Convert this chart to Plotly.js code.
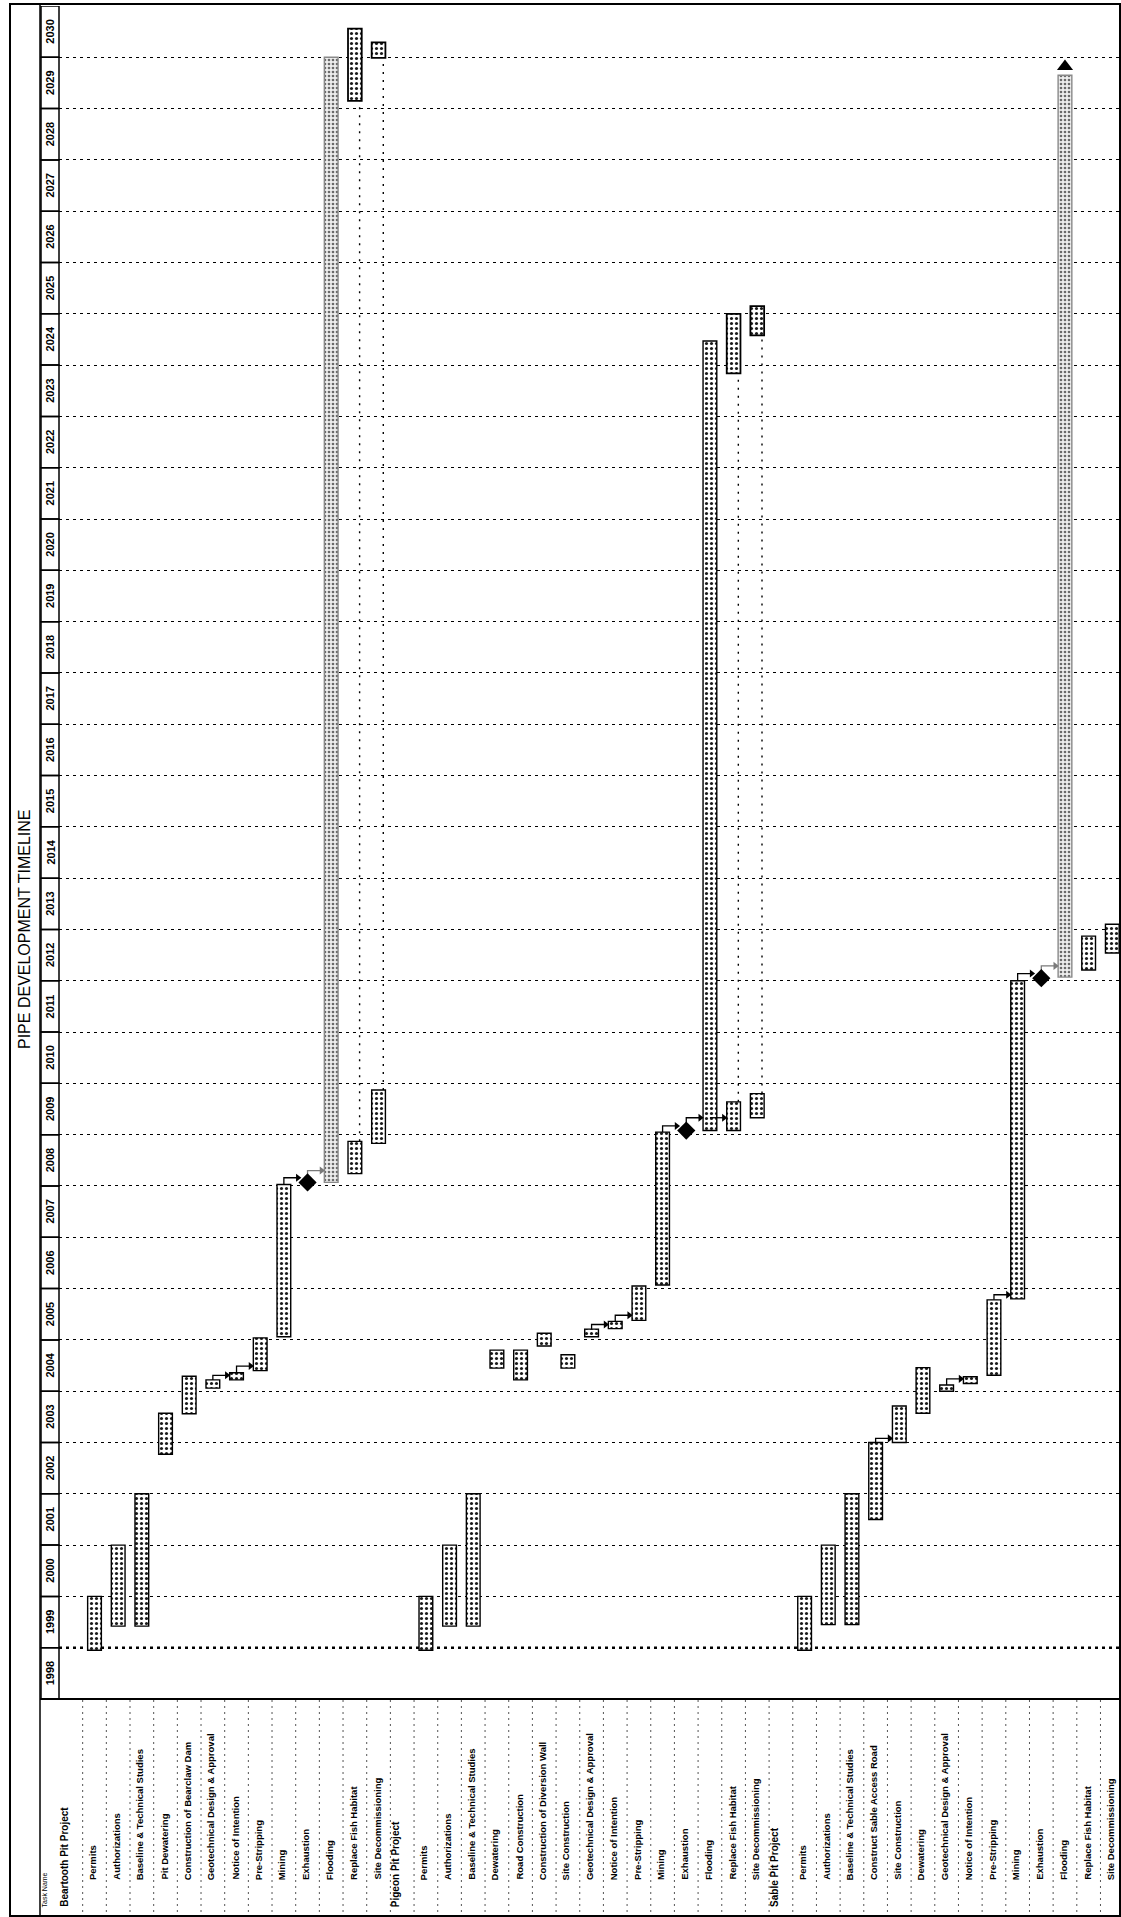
<!DOCTYPE html>
<html>
<head>
<meta charset="utf-8">
<script src="https://cdn.plot.ly/plotly-3.0.1.min.js"></script>
<style>
  html, body { margin: 0; padding: 0; background: #fff; }
  #chart { width: 1121px; height: 1917px; }
</style>
</head>
<body>
<div id="chart"></div>
<script>
// ---------------- DATA ----------------
const chartTitle = "PIPE DEVELOPMENT TIMELINE";
const columnHeader = "Task Name";

const taskNames = [
  "Beartooth Pit Project", "Permits", "Authorizations", "Baseline & Technical Studies",
  "Pit Dewatering", "Construction of Bearclaw Dam", "Geotechnical Design & Approval",
  "Notice of Intention", "Pre-Stripping", "Mining", "Exhaustion", "Flooding",
  "Replace Fish Habitat", "Site Decommissioning",
  "Pigeon Pit Project", "Permits", "Authorizations", "Baseline & Technical Studies",
  "Dewatering", "Road Construction", "Construction of Diversion Wall", "Site Construction",
  "Geotechnical Design & Approval", "Notice of Intention", "Pre-Stripping", "Mining",
  "Exhaustion", "Flooding", "Replace Fish Habitat", "Site Decommissioning",
  "Sable Pit Project", "Permits", "Authorizations", "Baseline & Technical Studies",
  "Construct Sable Access Road", "Site Construction", "Dewatering",
  "Geotechnical Design & Approval", "Notice of Intention", "Pre-Stripping", "Mining",
  "Exhaustion", "Flooding", "Replace Fish Habitat", "Site Decommissioning"
];
const projectRows = [0, 14, 30];

const yearLabels = [1998, 1999, 2000, 2001, 2002, 2003, 2004, 2005, 2006, 2007, 2008,
  2009, 2010, 2011, 2012, 2013, 2014, 2015, 2016, 2017, 2018, 2019, 2020, 2021, 2022,
  2023, 2024, 2025, 2026, 2027, 2028, 2029, 2030];
const markerDate = 1999;   // bold dotted line

// task bars (first segment)
const barRow = [1, 2, 3, 4, 5, 6, 7, 8, 9, 12, 13,
  15, 16, 17, 18, 19, 20, 21, 22, 23, 24, 25, 27, 28, 29,
  31, 32, 33, 34, 35, 36, 37, 38, 39, 40, 43, 44];
const barStart = [1998.95, 1999.42, 1999.42, 2002.77, 2003.56, 2004.06, 2004.22, 2004.40, 2005.06, 2008.24, 2008.83,
  1998.95, 1999.42, 1999.42, 2004.45, 2004.22, 2004.88, 2004.45, 2005.06, 2005.22, 2005.38, 2006.07, 2009.08, 2009.08, 2009.33,
  1998.95, 1999.45, 1999.45, 2001.50, 2003.00, 2003.57, 2004.00, 2004.15, 2004.31, 2005.80, 2012.21, 2012.54];
const barEnd = [2000.00, 2001.00, 2002.00, 2003.57, 2004.29, 2004.22, 2004.36, 2005.04, 2008.03, 2008.87, 2009.87,
  2000.00, 2001.00, 2002.00, 2004.80, 2004.80, 2005.13, 2004.71, 2005.21, 2005.36, 2006.05, 2009.05, 2024.47, 2009.64, 2009.80,
  2000.00, 2001.00, 2002.00, 2003.00, 2003.71, 2004.46, 2004.12, 2004.28, 2005.78, 2012.00, 2012.87, 2013.10];

// long grey flooding bars
const floodRow = [11, 42];
const floodStart = [2008.07, 2012.07];
const floodEnd = [2030.00, 2029.65];
const contRow = [42];            // bar continues past the timescale
const contDate = [2029.82];

// second segment of split tasks
const splitRow = [12, 13, 28, 29];
const splitStart = [2029.15, 2029.99, 2023.84, 2024.58];
const splitEnd = [2030.56, 2030.29, 2025.00, 2025.15];

// milestones
const msRow = [10, 26, 41];
const msDate = [2008.07, 2009.08, 2012.05];

// dependency links
const linkFrom = [6, 7, 9, 10, 22, 23, 25, 26, 27, 34, 37, 39, 40, 41];
const linkFromDate = [2004.22, 2004.36, 2008.03, 2008.15, 2005.21, 2005.36, 2009.05, 2009.15, 2009.33, 2002.98, 2004.12, 2005.78, 2012.00, 2012.12];
const linkTo = [7, 8, 10, 11, 23, 24, 26, 27, 28, 35, 38, 40, 41, 42];
const linkLevel = [2004.31, 2004.49, 2008.16, 2008.30, 2005.30, 2005.48, 2009.17, 2009.33, 2009.33, 2003.08, 2004.24, 2005.88, 2012.14, 2012.29];
const linkGrey = [false, false, false, true, false, false, false, false, false, false, false, false, false, true];

// ---------------- LAYOUT GEOMETRY ----------------
const W = 1121, H = 1917;
const M = { l: 59, r: 0, t: 6, b: 218 };
const plotW = W - M.l - M.r, plotH = H - M.t - M.b;
const px2x = px => (px - M.l) / plotW;
const py2y = py => (H - M.b - py) / plotH;
const FONT = "Liberation Sans, Arial, sans-serif";
const halfBar = 0.29;

// ---------------- TRACES ----------------
const dotPattern = { shape: ".", fgcolor: "#1a1a1a", bgcolor: "#ffffff", size: 5, solidity: 0.3 };
const traces = [];

traces.push({
  type: "bar", x: barRow, base: barStart,
  y: barEnd.map((e, i) => e - barStart[i]),
  width: 0.58, orientation: "v",
  marker: { color: "#ffffff", pattern: dotPattern, line: { color: "#000", width: 1.4 } },
  hoverinfo: "skip", showlegend: false
});
traces.push({
  type: "bar", x: splitRow, base: splitStart,
  y: splitEnd.map((e, i) => e - splitStart[i]),
  width: 0.58,
  marker: { color: "#ffffff", pattern: dotPattern, line: { color: "#000", width: 1.8 } },
  hoverinfo: "skip", showlegend: false
});
traces.push({
  type: "bar", x: floodRow, base: floodStart,
  y: floodEnd.map((e, i) => e - floodStart[i]),
  width: 0.58,
  marker: { color: "#eeeeee",
    pattern: { shape: ".", fgcolor: "#6a6a6a", bgcolor: "#eeeeee", size: 4, solidity: 0.35 },
    line: { color: "#8a8a8a", width: 1.4 } },
  hoverinfo: "skip", showlegend: false
});

// dotted connectors between split segments
{
  const xs = [], ys = [];
  splitRow.forEach((r, i) => {
    const k = barRow.indexOf(r);
    xs.push(r + 0.2, r + 0.2, null);
    ys.push(barEnd[k], splitStart[i], null);
  });
  traces.push({ type: "scatter", mode: "lines", x: xs, y: ys,
    line: { color: "#000", width: 1.4, dash: "2px,6px" },
    hoverinfo: "skip", showlegend: false });
}

// dependency link lines
function linkPath(grey) {
  const xs = [], ys = [], hx = [], hy = [];
  linkFrom.forEach((f, i) => {
    if (linkGrey[i] !== grey) return;
    const t = linkTo[i];
    xs.push(f, f, t - halfBar - 0.1, null);
    ys.push(linkFromDate[i], linkLevel[i], linkLevel[i], null);
    hx.push(t - halfBar - 0.12);
    hy.push(linkLevel[i]);
  });
  return { xs, ys, hx, hy };
}
[false, true].forEach(grey => {
  const p = linkPath(grey);
  const col = grey ? "#7a7a7a" : "#000";
  traces.push({ type: "scatter", mode: "lines", x: p.xs, y: p.ys,
    line: { color: col, width: 1.3 }, hoverinfo: "skip", showlegend: false });
  traces.push({ type: "scatter", mode: "markers", x: p.hx, y: p.hy,
    marker: { symbol: "triangle-right", size: 7, color: col },
    hoverinfo: "skip", showlegend: false });
});

// milestones
traces.push({ type: "scatter", mode: "markers", x: msRow, y: msDate,
  marker: { symbol: "diamond", size: 14, color: "#000" },
  hoverinfo: "skip", showlegend: false });
// continuation arrow
traces.push({ type: "scatter", mode: "markers", x: contRow, y: contDate,
  marker: { symbol: "triangle-up", size: 14, color: "#000" },
  hoverinfo: "skip", showlegend: false, cliponaxis: false });

// ---------------- SHAPES & ANNOTATIONS ----------------
const shapes = [];
const annotations = [];

// page border
shapes.push({ type: "rect", xref: "paper", yref: "paper",
  x0: px2x(10), x1: px2x(1120), y0: py2y(1916), y1: py2y(4),
  line: { color: "#000", width: 2 }, layer: "above" });
// table left border
shapes.push({ type: "line", xref: "paper", yref: "paper",
  x0: px2x(40), x1: px2x(40), y0: py2y(1916), y1: py2y(4),
  line: { color: "#000", width: 1.5 }, layer: "above" });
// task-area top line
shapes.push({ type: "line", xref: "paper", yref: "paper",
  x0: px2x(40), x1: 1, y0: 0, y1: 0,
  line: { color: "#000", width: 2.2 }, layer: "above" });
// bold dotted date line
shapes.push({ type: "line", xref: "paper", yref: "y",
  x0: 0, x1: 1, y0: markerDate, y1: markerDate,
  line: { color: "#000", width: 2.6, dash: "3px,4px" }, layer: "between" });

// year header boxes and labels
yearLabels.forEach(yr => {
  shapes.push({ type: "rect", xref: "paper", yref: "y",
    x0: px2x(41), x1: 0, y0: yr, y1: yr + 1,
    line: { color: "#000", width: 1.5 }, layer: "above" });
  annotations.push({ xref: "paper", yref: "y", x: px2x(50), y: yr + 0.5,
    text: "<b>" + yr + "</b>", showarrow: false, textangle: -90,
    font: { family: FONT, size: 11, color: "#000" }, xanchor: "center", yanchor: "middle" });
});

// row separators in the task-name area
for (let i = 0; i < taskNames.length - 1; i++) {
  shapes.push({ type: "line", xref: "x", yref: "paper",
    x0: i + 0.5, x1: i + 0.5, y0: py2y(1700), y1: py2y(1916),
    line: { color: "#555", width: 1, dash: "2px,4px" }, layer: "above" });
}

// task names
taskNames.forEach((name, i) => {
  const isProj = projectRows.includes(i);
  annotations.push({ xref: "x", yref: "paper", x: i,
    y: py2y(isProj ? 1909 : 1882),
    text: "<b>" + name.replace(/&/g, "&amp;") + "</b>",
    showarrow: false, textangle: -90, xanchor: "center", yanchor: "bottom",
    xshift: isProj ? -7 : -2,
    font: { family: FONT, size: isProj ? 10 : 9.5, color: "#000" } });
});
annotations.push({ xref: "paper", yref: "paper", x: px2x(44), y: py2y(1910),
  text: columnHeader, showarrow: false, textangle: -90, xanchor: "center", yanchor: "bottom",
  font: { family: FONT, size: 7, color: "#000" } });

// title
annotations.push({ xref: "paper", yref: "paper", x: px2x(25), y: py2y(930),
  text: chartTitle, showarrow: false, textangle: -90, xanchor: "center", yanchor: "middle",
  font: { family: FONT, size: 16, color: "#000" } });

const layout = {
  width: W, height: H,
  margin: { l: M.l, r: M.r, t: M.t, b: M.b, autoexpand: false },
  paper_bgcolor: "#fff", plot_bgcolor: "#fff",
  showlegend: false, barmode: "overlay",
  xaxis: { range: [-0.5, plotW / 23.67 - 0.5], showgrid: false, zeroline: false,
    showticklabels: false, showline: false, ticks: "", fixedrange: true },
  yaxis: { range: [1998, 2031], tick0: 1998, dtick: 1, showgrid: true,
    gridcolor: "#000", gridwidth: 1, griddash: "3px,4px",
    zeroline: false, showticklabels: false, showline: false, ticks: "", fixedrange: true },
  shapes: shapes, annotations: annotations,
  font: { family: FONT, color: "#000" }
};

Plotly.newPlot("chart", traces, layout, { staticPlot: true, displayModeBar: false });
</script>
</body>
</html>
